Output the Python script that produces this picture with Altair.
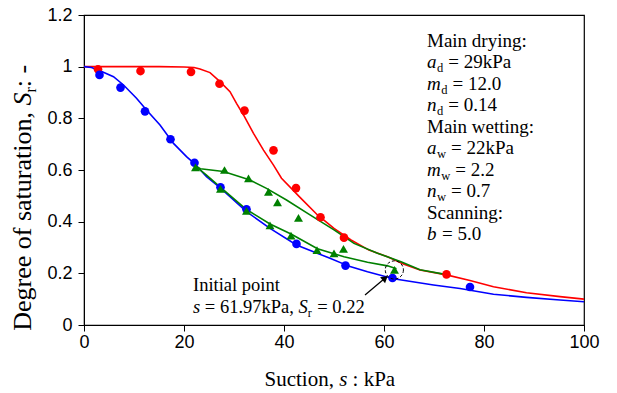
import altair as alt
import pandas as pd

# ---------------- data ----------------
# measured points
dry_s = [2.8, 11.3, 21.4, 27.1, 32.1, 37.9, 42.4, 47.3, 52.0, 72.5]
dry_sr = [0.99, 0.983, 0.98, 0.934, 0.83, 0.676, 0.53, 0.417, 0.338, 0.196]

wet_s = [3.1, 7.3, 12.2, 17.3, 22.1, 27.3, 32.5, 42.5, 52.3, 61.7, 77.2]
wet_sr = [0.968, 0.919, 0.827, 0.719, 0.628, 0.533, 0.448, 0.314, 0.230, 0.182, 0.147]

scan_s = [22.3, 28.1, 32.9, 36.9, 38.7, 42.9, 27.3, 32.5, 37.2, 41.4, 46.6, 50.0, 51.9, 62.1]
scan_sr = [0.61, 0.60, 0.568, 0.515, 0.475, 0.415, 0.527, 0.442, 0.386, 0.346, 0.29, 0.277, 0.295, 0.213]

# fitted curves
dry_curve_s = [0, 5, 10, 15, 20, 22, 23.2, 25.2, 27.2, 29.2, 30.5, 31.9, 33.9, 35.9, 37.9,
               39.5, 43.4, 46.7, 50, 53.4, 57, 60.7, 64, 67.2, 72.5, 77.2, 81.9, 88.5, 95.2, 100]
dry_curve_sr = [1, 1, 1, 1, 0.999, 0.997, 0.991, 0.977, 0.942, 0.903, 0.858, 0.813, 0.742, 0.677, 0.619,
                0.568, 0.49, 0.426, 0.374, 0.329, 0.29, 0.264, 0.235, 0.213, 0.194, 0.172, 0.148, 0.125, 0.11, 0.10]

wet_curve_s = [0, 1.5, 3.2, 5.9, 7.9, 10.5, 12.5, 15.2, 17.9, 20.5, 22.2, 24.5, 27.2, 32.5, 37.2,
               42.5, 49.2, 53.2, 56.7, 61.9, 69.9, 75.2, 81.9, 88.5, 95.2, 100]
wet_curve_sr = [1.0, 0.997, 0.984, 0.961, 0.929, 0.878, 0.832, 0.774, 0.703, 0.652, 0.623, 0.574, 0.532, 0.439, 0.374,
                0.31, 0.258, 0.226, 0.206, 0.179, 0.155, 0.141, 0.119, 0.107, 0.097, 0.09]

scan_lo_s = [22.3, 24.5, 27.2, 32.5, 37.2, 41.4, 46.7, 52, 56.7, 60.7, 62.5]
scan_lo_sr = [0.615, 0.58, 0.535, 0.447, 0.391, 0.352, 0.295, 0.264, 0.243, 0.229, 0.218]

scan_up_s = [22.3, 23.3, 27.9, 33.2, 36.5, 40.5, 45.2, 50, 54, 58.7, 63.4, 67.2, 72.5]
scan_up_sr = [0.615, 0.605, 0.594, 0.561, 0.529, 0.484, 0.426, 0.368, 0.316, 0.278, 0.245, 0.214, 0.195]

x_ticks = [0, 20, 40, 60, 80, 100]
y_ticks = [0, 0.2, 0.4, 0.6, 0.8, 1.0, 1.2]

initial_s, initial_sr = 62.07, 0.213

params_lines = [
    ("Main drying:",),
    ("a", "d", "= 29kPa"),
    ("m", "d", "= 12.0"),
    ("n", "d", "= 0.14"),
    ("Main wetting:",),
    ("a", "w", "= 22kPa"),
    ("m", "w", "= 2.2"),
    ("n", "w", "= 0.7"),
    ("Scanning:",),
    ("b", "", "= 5.0"),
]

# ---------------- layout helpers ----------------
W, H = 500, 310
X0, Y0 = 84, 15
XMAX, YMAX = 100, 1.2


def px_s(px):
    return (px - X0) / W * XMAX


def py_sr(py):
    return (Y0 + H - py) / H * YMAX


SERIF = "Liberation Serif"
SANS = "Liberation Sans"

pieces = []


def add(px, py, text, fs, style="n", ang=0):
    pieces.append(dict(s=px_s(px), sr=py_sr(py), text=text, fs=fs, style=style, ang=ang))


# right-hand parameter block
ITW = {"a": 0.5, "m": 0.722, "n": 0.5, "b": 0.5}
SUBW = {"d": 0.5, "w": 0.722, "": 0.0}
FS, SUB = 19, 12.5
bx = 427
for i, ln in enumerate(params_lines):
    by = 46.5 + 21.5 * i
    if len(ln) == 1:
        add(bx, by, ln[0], FS)
    else:
        let, sub, rest = ln
        add(bx, by, let, FS, "i")
        x1 = bx + ITW[let] * FS + 0.5
        if sub:
            add(x1, by + 4, sub, SUB)
        x2 = x1 + SUBW[sub] * SUB + 5
        add(x2, by, rest, FS)

# initial point annotation
AF = 18.5
add(193, 290.7, "Initial point", AF)
ly = 312.5
add(193, ly, "s", AF, "i")
add(193 + (0.389 + 0.25) * AF, ly, "= 61.97kPa,", AF)
sx = 193 + (0.389 + 0.25 + 4.814 + 0.25) * AF
add(sx, ly, "S", AF, "i")
add(sx + 0.5 * AF, ly + 4, "r", 12)
add(sx + 0.5 * AF + 0.333 * 12 + 0.3 * AF, ly, "= 0.22", AF)

# x-axis title
TF = 21
tx = 264.5
add(tx, 385.7, "Suction,", TF)
add(tx + 3.556 * TF, 385.7, "s", TF, "i")
add(tx + (3.556 + 0.389 + 0.25) * TF, 385.7, ": kPa", TF)

# y-axis title (rotated)
YF = 26
ybx = 31
yy = 197.5 + 10.25 * YF / 2
add(ybx, yy, "Degree of saturation,", YF, ang=270)
add(ybx, yy - 8.664 * YF, "S", YF, "i", ang=270)
add(ybx + 5, yy - 9.164 * YF, "r", 16, ang=270)
add(ybx, yy - 9.164 * YF - 0.333 * 16, ": -", YF, ang=270)

ann = pd.DataFrame(pieces)

# ---------------- chart ----------------
xs = alt.Scale(domain=[0, XMAX], nice=False)
ys = alt.Scale(domain=[0, YMAX], nice=False)

x_axis = alt.Axis(values=x_ticks, title=None, grid=False, labelFont=SANS, labelFontSize=18,
                  labelColor="black", tickColor="black", domainColor="black", tickSize=6,
                  labelPadding=2, format="d", labelFlush=False, labelOverlap=False)
y_axis = alt.Axis(values=y_ticks, title=None, grid=False, labelFont=SANS, labelFontSize=18,
                  labelColor="black", tickColor="black", domainColor="black", tickSize=6,
                  labelPadding=6, format="~g", labelFlush=False, labelOverlap=False)


def X(field="s"):
    return alt.X(f"{field}:Q", scale=xs, axis=x_axis)


def Y(field="sr"):
    return alt.Y(f"{field}:Q", scale=ys, axis=y_axis)


def line(s, sr, color):
    df = pd.DataFrame({"s": s, "sr": sr, "i": range(len(s))})
    return alt.Chart(df).mark_line(color=color, strokeWidth=1.6, clip=True).encode(
        x=X(), y=Y(), order="i:Q")


def pts(s, sr, color, shape, size):
    df = pd.DataFrame({"s": s, "sr": sr})
    return alt.Chart(df).mark_point(color=color, fill=color, filled=True, opacity=1,
                                    shape=shape, size=size).encode(x=X(), y=Y())


red_line = line(dry_curve_s, dry_curve_sr, "#ff0000")
blue_line = line(wet_curve_s, wet_curve_sr, "#0000ff")
g1 = line(scan_lo_s, scan_lo_sr, "#008000")
g2 = line(scan_up_s, scan_up_sr, "#008000")

red_pts = pts(dry_s, dry_sr, "#ff0000", "circle", 75)
blue_pts = pts(wet_s, wet_sr, "#0000ff", "circle", 75)
green_pts = pts(scan_s, scan_sr, "#008000", "triangle-up", 80)

init_df = pd.DataFrame({"s": [initial_s], "sr": [initial_sr]})
ring = alt.Chart(init_df).mark_point(shape="circle", size=330, filled=False, color="black",
                                     strokeWidth=1, strokeDash=[3, 2], opacity=1).encode(x=X(), y=Y())

arrow_df = pd.DataFrame({"s": [px_s(365), px_s(385.5)], "sr": [py_sr(295), py_sr(277.7)]})
arrow_line = alt.Chart(arrow_df).mark_line(color="black", strokeWidth=1.2).encode(x=X(), y=Y())
head_df = pd.DataFrame({"s": [px_s(384.3)], "sr": [py_sr(278.8)]})
arrow_head = alt.Chart(head_df).mark_point(shape="triangle", size=60, filled=True, color="black",
                                           opacity=1, angle=50).encode(x=X(), y=Y())

txt_n = alt.Chart(ann).transform_filter(alt.datum.style == "n").mark_text(
    font=SERIF, align="left", baseline="alphabetic", color="black", clip=False).encode(
    x=X(), y=Y(), text="text:N", size=alt.Size("fs:Q", scale=None, legend=None),
    angle=alt.Angle("ang:Q", scale=None))
txt_i = alt.Chart(ann).transform_filter(alt.datum.style == "i").mark_text(
    font=SERIF, fontStyle="italic", align="left", baseline="alphabetic", color="black", clip=False).encode(
    x=X(), y=Y(), text="text:N", size=alt.Size("fs:Q", scale=None, legend=None),
    angle=alt.Angle("ang:Q", scale=None))

chart = alt.layer(
    red_line, blue_line, g1, g2, red_pts, blue_pts, green_pts, ring, arrow_line, arrow_head, txt_n, txt_i
).properties(
    width=W, height=H,
    autosize=alt.AutoSizeParams(type="none"),
    padding={"left": X0, "top": Y0, "right": 617 - X0 - W, "bottom": 393 - Y0 - H},
    background="white",
).configure_view(stroke="black", strokeWidth=1.2)

chart.save("out.html", embed_options={"renderer": "svg", "actions": False})
